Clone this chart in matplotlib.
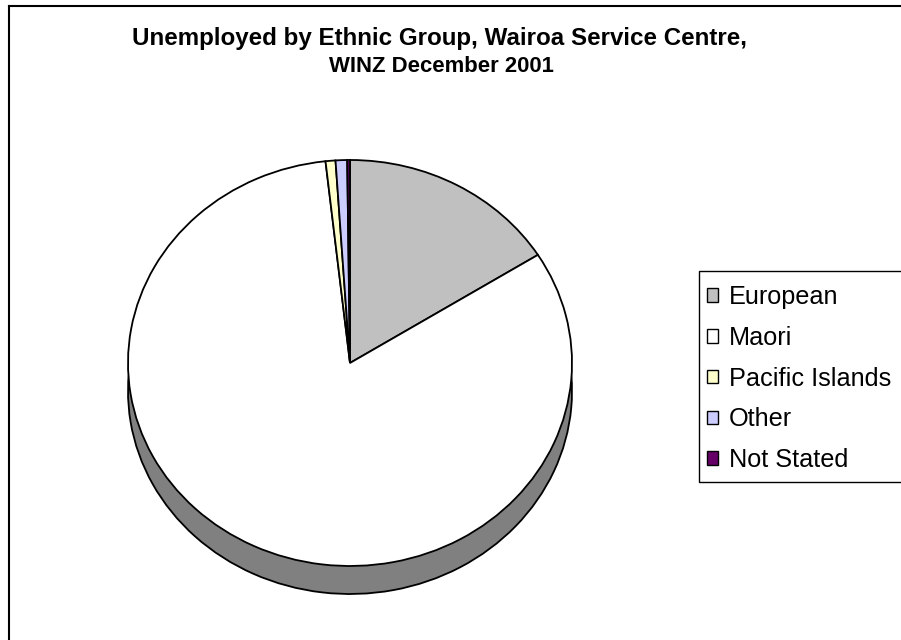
import matplotlib
matplotlib.use("Agg")
import matplotlib.pyplot as plt
from matplotlib.lines import Line2D
from matplotlib.patches import Rectangle

categories = ["European", "Maori", "Pacific Islands", "Other", "Not Stated"]
shares = [16.06, 82.18, 0.72, 0.84, 0.20]
top_colors = ["#C0C0C0", "#FFFFFF", "#FFFFCC", "#CCCCFF", "#660066"]
side_colors = ["#606060", "#808080", "#808060", "#666680", "#330033"]
title_lines = ["Unemployed by Ethnic Group, Wairoa Service Centre,", "WINZ December 2001"]

plt.rcParams['font.family'] = ['Liberation Sans', 'DejaVu Sans']

W, H = 901, 640
fig = plt.figure(figsize=(W / 100, H / 100), dpi=100)
ax = fig.add_axes([0, 0, 1, 1])

cx, cy = 350.0, 363.0   # pixel centre (y from top)
rx, ry = 222.0, 203.0   # semi axes in px
depth = 28.0

lw = 1.3
# side (extrusion)
ax.pie(shares, colors=side_colors, startangle=90, counterclock=False,
       center=(0, -depth / ry), radius=1,
       wedgeprops=dict(edgecolor="black", linewidth=lw))
# top
wedges, _ = ax.pie(shares, colors=top_colors, startangle=90, counterclock=False,
                   center=(0, 0), radius=1,
                   wedgeprops=dict(edgecolor="black", linewidth=lw))
ax.set_aspect('auto')
ax.set_xlim(-cx / rx, (W - cx) / rx)
ax.set_ylim(-(H - cy) / ry, cy / ry)
ax.axis('off')

# title
fig.text(439 / W, 1 - 39 / H, title_lines[0], ha='center', va='center',
         fontsize=17.4, fontweight='bold')
fig.text(441 / W, 1 - 67 / H, title_lines[1], ha='center', va='center',
         fontsize=15.9, fontweight='bold')

# legend frame
fig.add_artist(Rectangle((698.5 / W, 1 - 482 / H), 220 / W, (482 - 271) / H,
                         transform=fig.transFigure, facecolor='white',
                         edgecolor='black', linewidth=1.0, zorder=1))
leg = fig.legend(wedges, categories, loc='upper left',
                 bbox_to_anchor=(707 / W, 1 - 285 / H),
                 borderaxespad=0, borderpad=0, fontsize=18.2,
                 handlelength=0.45, handleheight=0.45, handletextpad=0.42,
                 labelspacing=0.665, frameon=False)
leg.set_zorder(2)
for h in leg.legend_handles:
    h.set_edgecolor('black')
    h.set_linewidth(1.0)

# outer chart frame (left and top edges visible)
fig.add_artist(Line2D([8.5 / W, 8.5 / W], [0, 1 - 5.5 / H], transform=fig.transFigure,
                      color='black', linewidth=1.5))
fig.add_artist(Line2D([8.5 / W, 1], [1 - 5.5 / H, 1 - 5.5 / H], transform=fig.transFigure,
                      color='black', linewidth=1.5))

fig.savefig("out.png", dpi=100)
